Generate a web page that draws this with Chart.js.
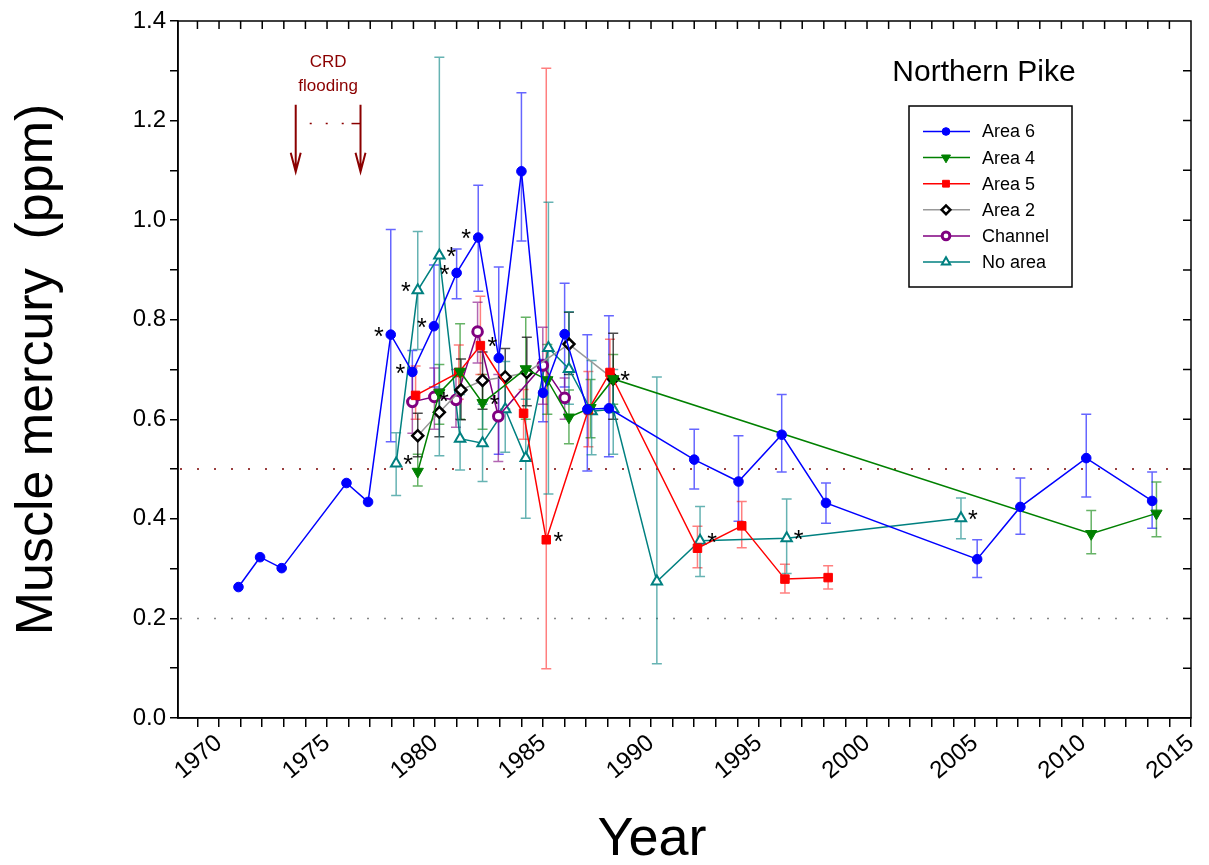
<!DOCTYPE html>
<html>
<head>
<meta charset="utf-8">
<script src="https://cdn.jsdelivr.net/npm/chart.js@4.4.0/dist/chart.umd.min.js"></script>
<style>
  body { margin: 0; background: #fff; }
</style>
</head>
<body>
<canvas id="chart" width="1209" height="865"></canvas>
<script>
// values (year, mean, lower/upper error bar)
const area6Years = [1970.9, 1971.9, 1972.9, 1975.9, 1976.9, 1977.95, 1978.95, 1979.95, 1981.0, 1982.0, 1982.95, 1984.0, 1985.0, 1986.0, 1987.05, 1988.05, 1992.0, 1994.05, 1996.05, 1998.1, 2005.1, 2007.1, 2010.15, 2013.2];
const area6Vals  = [0.263, 0.323, 0.301, 0.472, 0.434, 0.770, 0.695, 0.787, 0.894, 0.965, 0.723, 1.098, 0.653, 0.771, 0.620, 0.622, 0.519, 0.475, 0.569, 0.432, 0.319, 0.424, 0.522, 0.436];
const area6Lo    = [null, null, null, null, null, 0.555, 0.64, 0.665, 0.842, 0.857, 0.53, 0.958, 0.595, 0.665, 0.496, 0.525, 0.46, 0.395, 0.494, 0.391, 0.282, 0.369, 0.444, 0.381];
const area6Hi    = [null, null, null, null, null, 0.981, 0.738, 0.91, 0.942, 1.07, 0.906, 1.256, 0.72, 0.873, 0.77, 0.808, 0.58, 0.567, 0.65, 0.472, 0.358, 0.482, 0.61, 0.494];

const area4Years = [1979.2, 1980.2, 1981.16, 1982.2, 1984.2, 1985.2, 1986.2, 1987.2, 1988.25, 2010.38, 2013.4];
const area4Vals  = [0.495, 0.653, 0.696, 0.633, 0.701, 0.679, 0.604, 0.623, 0.681, 0.37, 0.411];
const area4Lo    = [0.466, 0.59, 0.6, 0.58, 0.6, 0.61, 0.551, 0.563, 0.63, 0.33, 0.364];
const area4Hi    = [0.53, 0.71, 0.792, 0.69, 0.805, 0.75, 0.659, 0.68, 0.73, 0.417, 0.474];

const area5Years = [1979.1, 1981.1, 1982.1, 1984.1, 1985.15, 1987.1, 1988.1, 1992.15, 1994.2, 1996.2, 1998.2];
const area5Vals  = [0.648, 0.694, 0.748, 0.612, 0.358, 0.619, 0.694, 0.341, 0.386, 0.279, 0.282];
const area5Lo    = [0.6, 0.64, 0.69, 0.56, 0.099, 0.545, 0.62, 0.302, 0.342, 0.251, 0.259];
const area5Hi    = [0.707, 0.749, 0.847, 0.66, 1.305, 0.696, 0.761, 0.385, 0.435, 0.309, 0.306];

const area2Years = [1979.2, 1980.2, 1981.2, 1982.2, 1983.25, 1984.25, 1986.2, 1988.25];
const area2Vals  = [0.567, 0.614, 0.659, 0.678, 0.685, 0.694, 0.751, 0.681];
const area2Lo    = [0.525, 0.565, 0.599, 0.62, 0.62, 0.627, 0.69, 0.60];
const area2Hi    = [0.612, 0.661, 0.721, 0.735, 0.742, 0.765, 0.815, 0.773];

const channelYears = [1978.95, 1979.97, 1980.97, 1981.97, 1982.93, 1984.99, 1986.0];
const channelVals  = [0.635, 0.645, 0.639, 0.776, 0.606, 0.708, 0.643];
const channelLo    = [0.572, 0.58, 0.584, 0.713, 0.515, 0.63, 0.60];
const channelHi    = [0.703, 0.703, 0.70, 0.835, 0.69, 0.785, 0.683];

const noAreaYears = [1978.2, 1979.2, 1980.2, 1981.16, 1982.2, 1983.25, 1984.2, 1985.25, 1986.2, 1987.25, 1988.25, 1990.27, 1992.27, 1996.28, 2004.35];
const noAreaVals  = [0.511, 0.859, 0.929, 0.561, 0.552, 0.62, 0.522, 0.743, 0.701, 0.616, 0.62, 0.274, 0.356, 0.361, 0.401];
const noAreaLo    = [0.447, 0.74, 0.527, 0.498, 0.475, 0.534, 0.401, 0.45, 0.63, 0.529, 0.53, 0.109, 0.284, 0.29, 0.36];
const noAreaHi    = [0.573, 0.977, 1.327, 0.65, 0.63, 0.716, 0.64, 1.036, 0.816, 0.718, 0.70, 0.685, 0.425, 0.44, 0.442];

// asterisks: [dataset index, point index, side]
const stars = [
  [0, 5, -1], [0, 6, -1], [0, 7, -1], [0, 8, -1], [0, 9, -1],
  [5, 0, 1], [5, 1, -1], [5, 2, 1],
  [4, 2, -1], [2, 2, 1], [1, 3, 1], [2, 4, 1], [3, 7, 1],
  [5, 12, 1], [5, 13, 1], [5, 14, 1]
];

const refLines = [0.5, 0.2];
const floodYears = [1973.55, 1976.55];
const floodTop = 1.232, floodBottom = 1.097, floodDots = 1.194;

const FONT = "'Liberation Sans', Arial, sans-serif";

function pts(xs, ys) { return xs.map((x, i) => ({x: x, y: ys[i]})); }

const datasets = [
  {label: 'Area 6', data: pts(area6Years, area6Vals), lo: area6Lo, hi: area6Hi,
   borderColor: '#0000ff', backgroundColor: '#0000ff', errColor: 'rgba(0,0,255,0.6)',
   pointStyle: 'circle', pointRadius: 4.8, pointBorderWidth: 1},
  {label: 'Area 4', data: pts(area4Years, area4Vals), lo: area4Lo, hi: area4Hi,
   borderColor: '#008000', backgroundColor: '#008000', errColor: 'rgba(0,128,0,0.6)',
   pointStyle: 'triangle', rotation: 180, pointRadius: 6.5, pointBorderWidth: 1},
  {label: 'Area 5', data: pts(area5Years, area5Vals), lo: area5Lo, hi: area5Hi,
   borderColor: '#ff0000', backgroundColor: '#ff0000', errColor: 'rgba(255,0,0,0.5)',
   pointStyle: 'rect', pointRadius: 6, pointBorderWidth: 1},
  {label: 'Area 2', data: pts(area2Years, area2Vals), lo: area2Lo, hi: area2Hi,
   borderColor: '#999999', backgroundColor: '#ffffff', pointBorderColor: '#000000', errColor: 'rgba(0,0,0,0.7)',
   pointStyle: 'rectRot', pointRadius: 5.5, pointBorderWidth: 2.5},
  {label: 'Channel', data: pts(channelYears, channelVals), lo: channelLo, hi: channelHi,
   borderColor: '#800080', backgroundColor: '#ffffff', errColor: 'rgba(128,0,128,0.6)',
   pointStyle: 'circle', pointRadius: 4.8, pointBorderWidth: 3},
  {label: 'No area', data: pts(noAreaYears, noAreaVals), lo: noAreaLo, hi: noAreaHi,
   borderColor: '#008080', backgroundColor: '#ffffff', errColor: 'rgba(0,128,128,0.6)',
   pointStyle: 'triangle', pointRadius: 6, pointBorderWidth: 2}
];
datasets.forEach(d => {
  d.borderWidth = 1.5;
  d.pointBackgroundColor = d.backgroundColor;
  d.pointBorderColor = d.pointBorderColor || d.borderColor;
  d.pointRotation = d.rotation || 0;
  d.fill = false;
  d.tension = 0;
});

// error bars go under the lines
const errorBars = {
  id: 'errorBars',
  beforeDatasetsDraw(chart) {
    const {ctx, scales: {x, y}, chartArea: a} = chart;
    ctx.save();
    // dotted reference lines
    refLines.forEach((v, k) => {
      ctx.strokeStyle = k === 0 ? '#7a0000' : '#888';
      ctx.lineWidth = 1.5;
      ctx.setLineDash([2, 15]);
      ctx.beginPath();
      ctx.moveTo(a.left + 2, y.getPixelForValue(v));
      ctx.lineTo(a.right, y.getPixelForValue(v));
      ctx.stroke();
    });
    ctx.setLineDash([]);
    chart.data.datasets.forEach(ds => {
      ctx.strokeStyle = ds.errColor;
      ctx.lineWidth = 1.5;
      ds.data.forEach((p, i) => {
        if (ds.lo[i] == null) return;
        const px = x.getPixelForValue(p.x);
        const y1 = y.getPixelForValue(ds.lo[i]);
        const y2 = y.getPixelForValue(ds.hi[i]);
        ctx.beginPath();
        ctx.moveTo(px, y1); ctx.lineTo(px, y2);
        ctx.moveTo(px - 5, y1); ctx.lineTo(px + 5, y1);
        ctx.moveTo(px - 5, y2); ctx.lineTo(px + 5, y2);
        ctx.stroke();
      });
    });
    ctx.restore();
  }
};

const extras = {
  id: 'extras',
  afterDraw(chart) {
    const {ctx, scales: {x, y}, chartArea: a} = chart;
    ctx.save();

    // frame + inward ticks on top and right
    ctx.strokeStyle = '#000';
    ctx.lineWidth = 1.5;
    ctx.strokeRect(a.left, a.top, a.right - a.left, a.bottom - a.top);
    ctx.beginPath();
    for (let yr = 1969; yr <= 2014; yr++) {
      const px = x.getPixelForValue(yr);
      ctx.moveTo(px, a.top); ctx.lineTo(px, a.top + 8);
    }
    for (let v = 1; v < 14; v++) {
      const py = y.getPixelForValue(v / 10);
      ctx.moveTo(a.right, py); ctx.lineTo(a.right - 8, py);
    }
    ctx.stroke();

    // asterisks
    ctx.fillStyle = '#000';
    ctx.font = '25px ' + FONT;
    ctx.textAlign = 'center';
    ctx.textBaseline = 'middle';
    stars.forEach(([d, i, side]) => {
      const p = chart.data.datasets[d].data[i];
      ctx.fillText('*', x.getPixelForValue(p.x) + side * 12, y.getPixelForValue(p.y) + 3);
    });

    // x title, placed where the original has it
    ctx.font = '54px ' + FONT;
    ctx.fillText('Year', 652, 840);

    // CRD flooding annotation
    const red = '#8b0000';
    ctx.fillStyle = red;
    ctx.strokeStyle = red;
    ctx.font = '17px ' + FONT;
    const xl = x.getPixelForValue(floodYears[0]);
    const xr = x.getPixelForValue(floodYears[1]);
    const yt = y.getPixelForValue(floodTop), yb = y.getPixelForValue(floodBottom);
    ctx.fillText('CRD', (xl + xr) / 2, 62);
    ctx.fillText('flooding', (xl + xr) / 2, 86);
    ctx.lineWidth = 2;
    [xl, xr].forEach(px => {
      ctx.beginPath();
      ctx.moveTo(px, yt); ctx.lineTo(px, yb);
      ctx.moveTo(px - 5, yb - 19); ctx.lineTo(px, yb); ctx.lineTo(px + 5, yb - 19);
      ctx.stroke();
    });
    const yd = y.getPixelForValue(floodDots);
    ctx.lineWidth = 1.5;
    ctx.setLineDash([2, 14]);
    ctx.beginPath();
    ctx.moveTo(xl + 14, yd); ctx.lineTo(xr - 8, yd);
    ctx.stroke();
    ctx.setLineDash([]);
    ctx.beginPath();
    ctx.moveTo(xr - 9, yd); ctx.lineTo(xr, yd);
    ctx.stroke();

    // title
    ctx.fillStyle = '#000';
    ctx.font = '30px ' + FONT;
    ctx.fillText('Northern Pike', 984, 73);

    // legend
    const lx = 909, ly = 106, lw = 163, lh = 181;
    ctx.lineWidth = 1.5;
    ctx.strokeStyle = '#000';
    ctx.strokeRect(lx, ly, lw, lh);
    ctx.font = '18px ' + FONT;
    ctx.textAlign = 'left';
    chart.data.datasets.forEach((ds, k) => {
      const ry = 131.5 + k * 26.1;
      ctx.strokeStyle = ds.borderColor;
      ctx.lineWidth = 1.5;
      ctx.beginPath();
      ctx.moveTo(923, ry); ctx.lineTo(970, ry);
      ctx.stroke();
      ctx.fillStyle = ds.pointBackgroundColor;
      ctx.strokeStyle = ds.pointBorderColor;
      ctx.lineWidth = ds.pointBorderWidth;
      Chart.helpers.drawPoint(ctx, {
        pointStyle: ds.pointStyle, rotation: ds.pointRotation,
        radius: ds.pointRadius * 0.8, borderWidth: ds.pointBorderWidth
      }, 946, ry);
      ctx.fillStyle = '#000';
      ctx.fillText(ds.label, 982, ry + 1);
    });
    ctx.restore();
  }
};

const ctx = document.getElementById('chart').getContext('2d');
new Chart(ctx, {
  type: 'line',
  data: {datasets: datasets},
  plugins: [errorBars, extras],
  options: {
    responsive: false,
    animation: false,
    devicePixelRatio: 1,
    layout: {padding: {left: 12, right: 18, top: 21, bottom: 0}},
    plugins: {legend: {display: false}, tooltip: {enabled: false}},
    scales: {
      x: {
        type: 'linear', min: 1968.1, max: 2015,
        afterBuildTicks: s => {
          s.ticks = [];
          for (let yr = 1969; yr <= 2015; yr++) s.ticks.push({value: yr});
        },
        afterFit: s => { s.height = 865 - 718; s.paddingLeft = 0; s.paddingRight = 0; },
        ticks: {
          autoSkip: false, minRotation: 40, maxRotation: 40,
          callback: v => (v % 5 === 0 ? String(v) : ''),
          color: '#000', font: {family: FONT, size: 24}, padding: 2
        },
        grid: {drawOnChartArea: false, tickLength: 9, color: '#000', lineWidth: 1.5},
        border: {color: '#000', width: 1.5}
      },
      y: {
        min: 0, max: 1.4,
        afterFit: s => { s.width = 178 - 12; },
        ticks: {
          stepSize: 0.1, autoSkip: false,
          callback: v => (Math.round(v * 10) % 2 === 0 ? v.toFixed(1) : ''),
          color: '#000', font: {family: FONT, size: 24}, padding: 4
        },
        grid: {drawOnChartArea: false, tickLength: 8, color: '#000', lineWidth: 1.5},
        border: {color: '#000', width: 1.5},
        title: {display: true, text: 'Muscle mercury  (ppm)', color: '#000',
                font: {family: FONT, size: 52, lineHeight: 1}, padding: {top: 0, bottom: 0}}
      }
    }
  }
});
</script>
</body>
</html>
